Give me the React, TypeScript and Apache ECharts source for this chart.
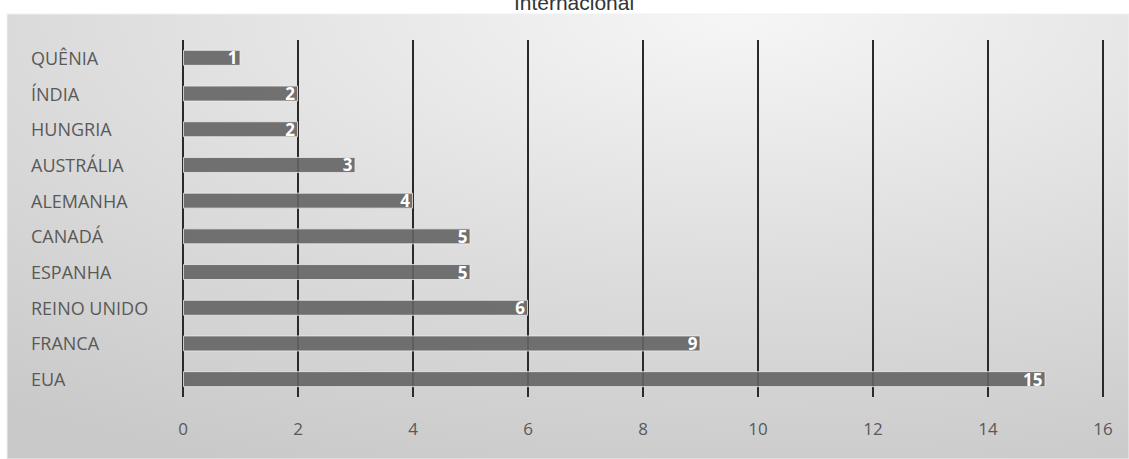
import React, { useEffect, useRef } from "react";
import * as echarts from "echarts";

// Countries listed top to bottom as drawn
const countries = [
  "QUÊNIA",
  "ÍNDIA",
  "HUNGRIA",
  "AUSTRÁLIA",
  "ALEMANHA",
  "CANADÁ",
  "ESPANHA",
  "REINO UNIDO",
  "FRANCA",
  "EUA",
];
const counts = [1, 2, 2, 3, 4, 5, 5, 6, 9, 15];
const titleText = "Internacional";

const FONT = "'Open Sans', 'Noto Sans', sans-serif";

export default function App() {
  const ref = useRef<HTMLDivElement>(null);

  useEffect(() => {
    if (!ref.current) return;
    const chart = echarts.init(ref.current, undefined, { renderer: "svg" });
    chart.setOption({
      animation: false,
      backgroundColor: "#ffffff",
      graphic: [
        {
          type: "rect",
          z: -10,
          shape: { x: 7, y: 14, width: 1122, height: 445 },
          style: {
            fill: new echarts.graphic.RadialGradient(0.65, 0, 1.1, [
              { offset: 0, color: "#f6f6f6" },
              { offset: 0.55, color: "#dcdcdc" },
              { offset: 1, color: "#c9c9c9" },
            ]),
            stroke: "#f0f0f0",
            lineWidth: 1,
          },
        },
        {
          type: "text",
          x: 574,
          y: 13,
          style: {
            text: titleText,
            fill: "#333333",
            font: "21px 'Liberation Sans', Arial, sans-serif",
            textAlign: "center",
            textVerticalAlign: "bottom",
          },
        },
      ],
      grid: { left: 183, right: 26, top: 40, bottom: 62 },
      xAxis: {
        type: "value",
        min: 0,
        max: 16,
        interval: 2,
        axisLine: { show: false },
        axisTick: { show: false },
        axisLabel: {
          color: "#595959",
          fontFamily: FONT,
          fontSize: 17,
          margin: 23,
        },
        splitLine: { show: true, lineStyle: { color: "#2a2a2a", width: 2 } },
      },
      yAxis: {
        type: "category",
        data: countries,
        inverse: true,
        axisLine: { show: false },
        axisTick: { show: false },
        axisLabel: {
          color: "#595959",
          fontFamily: FONT,
          fontSize: 18,
          align: "left",
          margin: 152,
        },
      },
      series: [
        {
          type: "bar",
          data: counts,
          barWidth: 16,
          itemStyle: {
            color: "rgba(100,100,100,0.9)",
            borderColor: "rgba(235,235,235,0.8)",
            borderWidth: 1,
          },
          label: {
            show: true,
            position: "insideRight",
            distance: 3,
            color: "#ffffff",
            fontFamily: FONT,
            fontWeight: "bold",
            fontSize: 17,
          },
        },
      ],
    });
    return () => chart.dispose();
  }, []);

  return (
    <div
      ref={ref}
      style={{ position: "fixed", left: 0, top: 0, width: 1129, height: 459 }}
    />
  );
}
